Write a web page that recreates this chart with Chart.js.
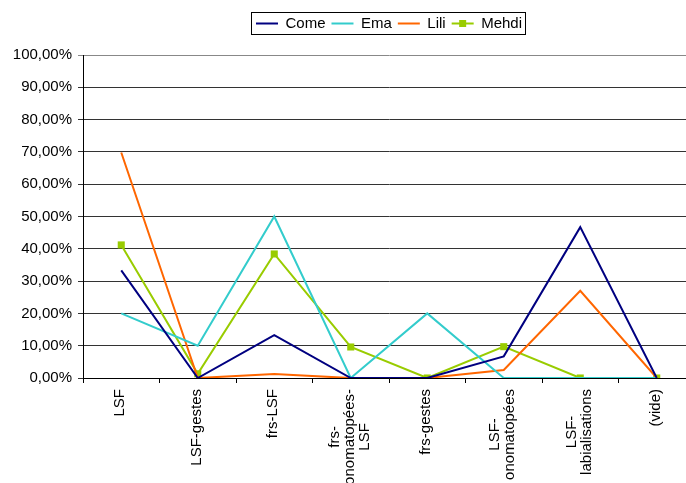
<!DOCTYPE html>
<html>
<head>
<meta charset="utf-8">
<script src="https://cdn.jsdelivr.net/npm/chart.js@4"></script>
<style>
  html, body { margin: 0; padding: 0; background: #fff; overflow: hidden; }
  #wrap { width: 700px; height: 483px; }
</style>
</head>
<body>
<div id="wrap"><canvas id="lineChart"></canvas></div>
<script>
const categories = ["LSF", "LSF-gestes", "frs-LSF", ["frs-", "onomatopées-", "LSF"], "frs-gestes", ["LSF-", "onomatopées"], ["LSF-", "labialisations"], "(vide)"];
const come  = [33.3, 0, 13.3, 0, 0, 6.7, 46.7, 0];
const ema   = [20, 10, 50, 0, 20, 0, 0, 0];
const lili  = [69.8, 0, 1.2, 0, 0, 2.5, 27, 0];
const mehdi = [41.2, 1.3, 38.4, 9.6, 0, 9.7, 0, 0];
const yTicks = [0, 10, 20, 30, 40, 50, 60, 70, 80, 90, 100];

const FONT = "'Liberation Sans', Arial, sans-serif";

// legend: framed, centred over the plot, extra gap under it
const legendFrame = {
  id: 'legendFrame',
  beforeLayout(chart) {
    const lg = chart.legend;
    if (lg && !lg._grown) {
      const fit = lg.fit.bind(lg);
      lg.fit = function () { fit(); this.height += 14; };
      lg._grown = true;
    }
  },
  afterLayout(chart) {
    chart.legend.left = chart.chartArea.left;
    chart.legend.right = chart.chartArea.right;
  },
  afterDraw(chart) {
    const boxes = chart.legend.legendHitBoxes;
    if (!boxes || !boxes.length) return;
    const ctx = chart.ctx;
    let l = Infinity, r = -Infinity, t = Infinity, b = -Infinity;
    boxes.forEach(h => {
      l = Math.min(l, h.left); r = Math.max(r, h.left + h.width);
      t = Math.min(t, h.top); b = Math.max(b, h.top + h.height);
    });
    ctx.save();
    ctx.strokeStyle = '#000';
    ctx.lineWidth = 1;
    ctx.strokeRect(Math.round(l - 5) + 0.5, Math.round(t - 4) + 0.5, Math.round(r - l + 8), Math.round(b - t + 7));
    const m = boxes[3];
    ctx.fillStyle = '#99CC00';
    ctx.fillRect(m.left + 11 - 3.5, m.top + m.height / 2 - 3.5, 7, 7);
    ctx.restore();
  }
};

// vertical category labels, lines centred on the tick like Excel does
const xLabels = {
  id: 'xLabels',
  afterDraw(chart) {
    const sc = chart.scales.x;
    const ctx = chart.ctx;
    ctx.save();
    ctx.font = "15px " + FONT;
    ctx.fillStyle = "#000";
    ctx.textAlign = "center";
    ctx.textBaseline = "middle";
    categories.forEach((lab, i) => {
      const lines = Array.isArray(lab) ? lab : [lab];
      const px = sc.getPixelForTick(i);
      const maxW = Math.max(...lines.map(s => ctx.measureText(s).width));
      const cy = sc.top + 11 + maxW / 2;
      lines.forEach((s, j) => {
        ctx.save();
        ctx.translate(px - 1 + (j - (lines.length - 1) / 2) * 15, cy);
        ctx.rotate(-Math.PI / 2);
        ctx.fillText(s, 0, 0);
        ctx.restore();
      });
    });
    ctx.restore();
  }
};

new Chart("lineChart", {
  type: "line",
  data: {
    labels: categories,
    datasets: [
      { label: "Come", data: come, borderColor: "#000080", backgroundColor: "#000080", borderWidth: 2, pointRadius: 0, fill: false },
      { label: "Ema", data: ema, borderColor: "#33CCCC", backgroundColor: "#33CCCC", borderWidth: 2, pointRadius: 0, fill: false },
      { label: "Lili", data: lili, borderColor: "#FF6600", backgroundColor: "#FF6600", borderWidth: 2, pointRadius: 0, fill: false },
      { label: "Mehdi", data: mehdi, borderColor: "#99CC00", backgroundColor: "#99CC00", borderWidth: 2,
        pointStyle: "rect", pointRadius: 5, pointBorderWidth: 0, fill: false }
    ]
  },
  plugins: [legendFrame, xLabels],
  options: {
    responsive: true,
    maintainAspectRatio: false,
    animation: false,
    layout: { padding: { top: 10, left: 0, right: 0, bottom: 0 } },
    plugins: {
      tooltip: { enabled: false },
      legend: {
        position: "top",
        labels: {
          color: "#000",
          font: { family: FONT, size: 15 },
          usePointStyle: true,
          pointStyle: "line",
          pointStyleWidth: 22,
          boxWidth: 22,
          boxHeight: 14,
          padding: 6,
          generateLabels(chart) {
            const items = Chart.defaults.plugins.legend.labels.generateLabels(chart);
            items.forEach(it => { it.lineWidth = 2; it.pointStyle = "line"; });
            return items;
          }
        }
      }
    },
    scales: {
      x: {
        offset: true,
        grid: { display: true, drawOnChartArea: false, offset: true, tickLength: 5, color: "#000" },
        border: { color: "#000", width: 1 },
        ticks: { display: false, autoSkip: false },
        afterFit(scale) { scale.height = 105; }
      },
      y: {
        min: 0,
        max: 100,
        afterBuildTicks(scale) { scale.ticks = yTicks.map(v => ({ value: v })); },
        grid: {
          color: c => (c.tick && c.tick.value === 100 ? "#888" : "#333"),
          tickLength: 5,
          lineWidth: 1
        },
        border: { color: "#000", width: 1 },
        ticks: {
          color: "#000",
          font: { family: FONT, size: 15 },
          padding: 6,
          callback: v => v.toFixed(2).replace(".", ",") + "%"
        },
        afterFit(scale) { scale.width = 83; }
      }
    }
  }
});
</script>
</body>
</html>
